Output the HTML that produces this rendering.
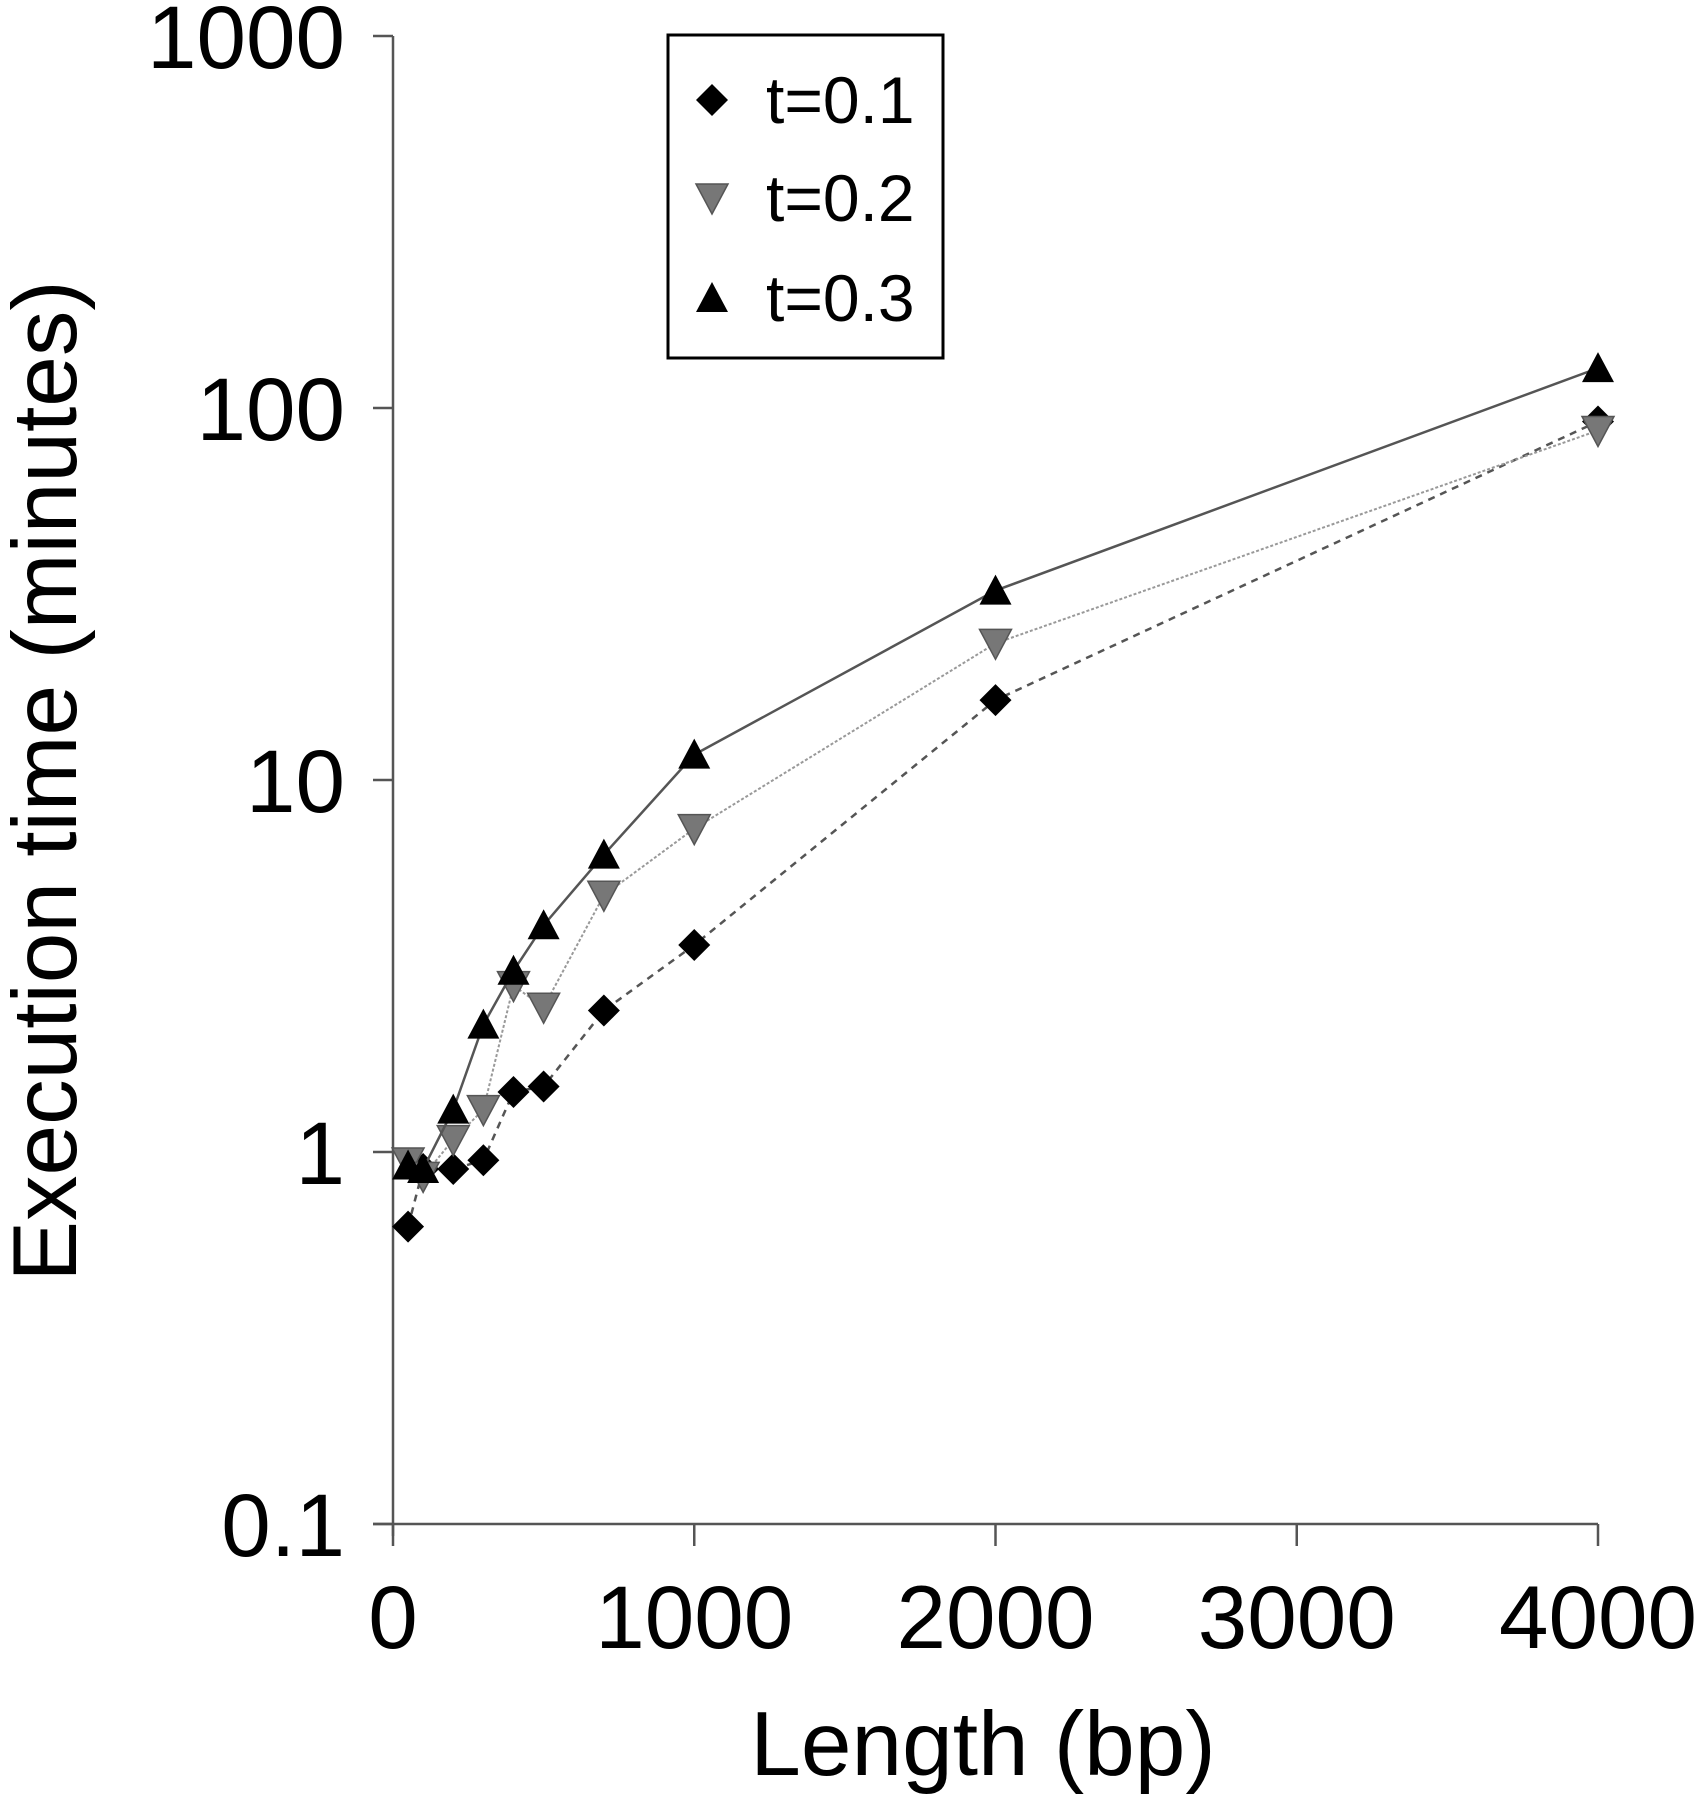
<!DOCTYPE html>
<html><head><meta charset="utf-8"><style>html,body{margin:0;padding:0;background:#fff}svg{display:block}text{font-family:"Liberation Sans",sans-serif;fill:#000}</style></head>
<body>
<svg id="chart" width="1701" height="1800" viewBox="0 0 1701 1800" xmlns="http://www.w3.org/2000/svg"></svg>
<script>
const xCats=[50,100,200,300,400,500,700,1000,2000,4000];
const s01=[0.63,0.9,0.9,0.95,1.45,1.5,2.4,3.6,16.4,92];
const s02=[0.94,0.86,1.08,1.3,2.8,2.45,4.9,7.4,23.3,87];
const s03=[0.92,0.9,1.3,2.2,3.07,4.07,6.3,11.7,32.3,128];
const xTicks=[0,1000,2000,3000,4000];
const yTicks=[0.1,1,10,100,1000];
const yTickLabels=["0.1","1","10","100","1000"];

const NS="http://www.w3.org/2000/svg";
const svg=document.getElementById('chart');
const X0=393,X1=1598,Y0=1524,Y1=36;
const xs=v=>X0+(v/4000)*(X1-X0);
const ys=v=>Y0-(Math.log10(v)+1)/4*(Y0-Y1);
function mk(tag,attrs,parent){const e=document.createElementNS(NS,tag);for(const k in attrs)e.setAttribute(k,attrs[k]);(parent||svg).appendChild(e);return e;}

let ax=mk('line',{x1:X0,y1:Y1,x2:X0,y2:Y0+12,stroke:'#555','stroke-width':2.5});


let axx=mk('line',{x1:X0-20,y1:Y0,x2:X1,y2:Y0,stroke:'#555','stroke-width':2.5});



yTicks.forEach((t,i)=>{
  const tl=mk('line',{x1:X0-20,y1:ys(t),x2:X0,y2:ys(t),stroke:'#555','stroke-width':2.5});
  
  
  const tx=mk('text',{x:345,y:ys(t)+32,'text-anchor':'end','font-size':89});
  tx.textContent=yTickLabels[i];
  
  
});
xTicks.forEach(t=>{
  const tl=mk('line',{x1:xs(t),y1:Y0,x2:xs(t),y2:Y0+22,stroke:'#555','stroke-width':2.5});
  
  
  const tx=mk('text',{x:xs(t),y:1648,'text-anchor':'middle','font-size':89});
  tx.textContent=String(t);
  
  
});
let xt=mk('text',{x:983,y:1775,'text-anchor':'middle','font-size':91});
xt.textContent='Length (bp)';


let yt=mk('text',{x:0,y:0,'text-anchor':'middle','font-size':91,transform:'translate(76,781) rotate(-90)'});
yt.textContent='Execution time (minutes)';



function marker(type,x,y,g){
  if(type==='diamond')return mk('polygon',{points:`${x},${y-16} ${x+16},${y} ${x},${y+16} ${x-16},${y}`,fill:'#000'},g);
  if(type==='down')return mk('polygon',{points:`${x-16},${y-14} ${x+16},${y-14} ${x},${y+16}`,fill:'#777',stroke:'#555','stroke-width':1.5},g);
  return mk('polygon',{points:`${x-16},${y+14} ${x+16},${y+14} ${x},${y-16}`,fill:'#000'},g);
}
const series=[
  {name:'series-t01',vals:s01,m:'diamond',stroke:'#555',dash:'7,6',w:2.5},
  {name:'series-t02',vals:s02,m:'down',stroke:'#999',dash:'3,2',w:2},
  {name:'series-t03',vals:s03,m:'up',stroke:'#555',dash:'',w:2.5}
];
series.forEach(s=>{
  const g=mk('g',{});
  
  
  const pts=xCats.map((c,i)=>xs(c)+','+ys(s.vals[i])).join(' ');
  const pl=mk('polyline',{points:pts,fill:'none',stroke:s.stroke,'stroke-width':s.w,'stroke-dasharray':s.dash},g);
  
  
  xCats.forEach((c,i)=>{
    const p=marker(s.m,xs(c),ys(s.vals[i]),g);
    
    
  });
});

const lg=mk('g',{});


mk('rect',{x:668,y:35,width:275,height:323,fill:'#fff',stroke:'#000','stroke-width':3},lg);
[['diamond','t=0.1',100],['down','t=0.2',198],['up','t=0.3',298]].forEach(([m,l,y])=>{
  const e=marker(m,712,y,lg);
  
  
  const t=mk('text',{x:766,y:y+23,'font-size':66},lg);
  t.textContent=l;
  
  
});
</script>
</body></html>
